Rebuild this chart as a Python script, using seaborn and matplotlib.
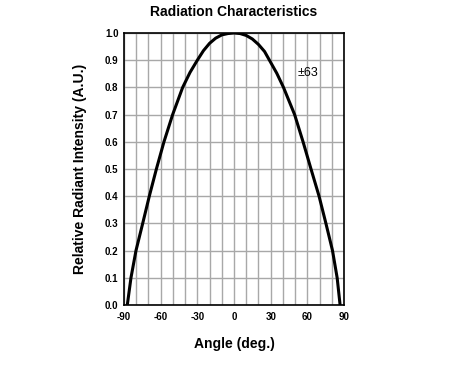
import matplotlib
matplotlib.use("Agg")
import matplotlib.pyplot as plt
import seaborn as sns
import numpy as np
import pandas as pd

# Data
angles = [-87.3, -84.3, -80.2, -74.7, -69.3, -63.5, -57.3, -50.2, -42.0, -36.0, -30.0,
          -25.0, -20.0, -15.0, -10.0, -5.0, 0.0, 5.0, 10.0, 15.0, 20.0, 25.0, 29.0, 35.0,
          40.5, 49.6, 56.5, 63.0, 69.6, 75.2, 80.6, 84.4, 86.8]
intensity = [0.0, 0.1, 0.2, 0.3, 0.4, 0.5, 0.6, 0.7, 0.8, 0.855, 0.9,
             0.935, 0.962, 0.981, 0.993, 0.998, 1.0, 0.998, 0.991, 0.978, 0.958, 0.932,
             0.9, 0.852, 0.8, 0.7, 0.6, 0.5, 0.4, 0.3, 0.2, 0.1, 0.0]
x_ticks = [-90, -60, -30, 0, 30, 60, 90]
y_ticks = [0.0, 0.1, 0.2, 0.3, 0.4, 0.5, 0.6, 0.7, 0.8, 0.9, 1.0]
annotation = "±63"

sns.set_theme(style="white")
plt.rcParams['font.family'] = ['Liberation Sans', 'DejaVu Sans']
plt.rcParams['text.color'] = 'black'
plt.rcParams['axes.labelcolor'] = 'black'
plt.rcParams['xtick.color'] = 'black'
plt.rcParams['ytick.color'] = 'black'

df = pd.DataFrame({"angle": angles, "intensity": intensity})

fig = plt.figure(figsize=(4.58, 3.67), dpi=100)
ax = fig.add_axes([124/458, 1 - 305/367, 220/458, 272/367])

sns.lineplot(data=df, x="angle", y="intensity", ax=ax, color="black",
             linewidth=2.2, sort=False, zorder=3)
for line in ax.lines:
    line.set_solid_joinstyle("round")

ax.set_xlim(-90, 90)
ax.set_ylim(0, 1.0)
ax.set_xticks(x_ticks)
ax.set_xticks(np.arange(-90, 91, 10), minor=True)
ax.set_yticks(y_ticks)
ax.set_xticklabels([str(t) for t in x_ticks], fontsize=7, fontweight="bold")
ax.set_yticklabels([f"{t:.1f}" for t in y_ticks], fontsize=7, fontweight="bold")
ax.tick_params(axis="x", which="both", length=0, pad=5)
ax.tick_params(axis="y", which="both", length=0, pad=4)
ax.grid(True, which="both", color="#a8a8a8", linewidth=1.0)
ax.set_axisbelow(True)

for s in ax.spines.values():
    s.set_color("black")
    s.set_linewidth(1.2)
    s.set_visible(True)

ax.set_title("Radiation Characteristics", fontsize=10, fontweight="bold", pad=12,
             color="black")
ax.set_xlabel("Angle (deg.)", fontsize=10, fontweight="bold", labelpad=11)
ax.set_ylabel("Relative Radiant Intensity (A.U.)", fontsize=10, fontweight="bold", labelpad=13)

ax.text(52.4, 0.853, annotation, fontsize=9, ha="left", va="center", color="black")

fig.savefig("out.png", dpi=100)
